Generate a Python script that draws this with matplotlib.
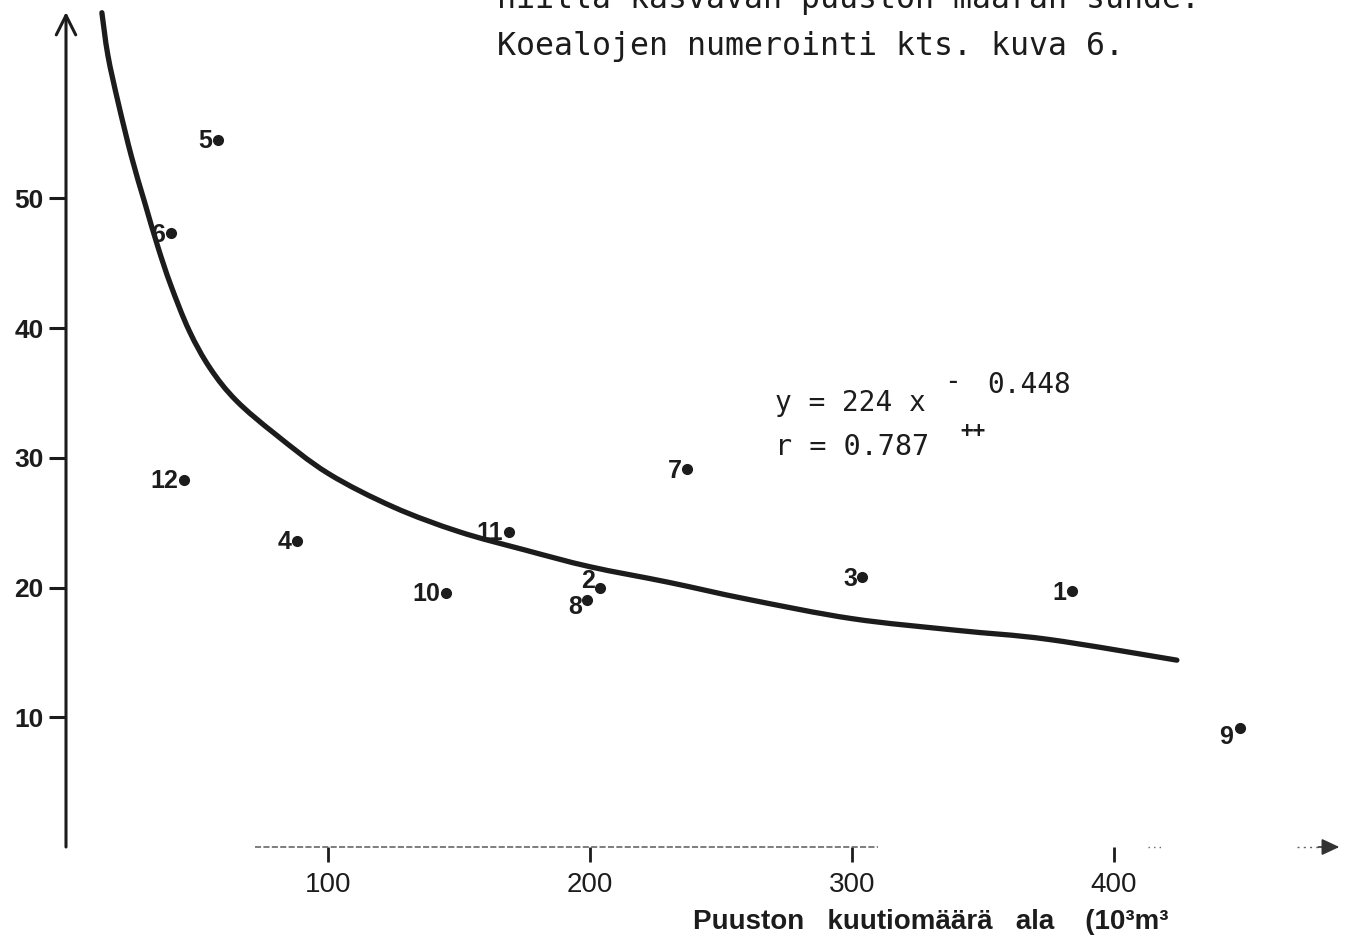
import numpy as np
import matplotlib
matplotlib.use("Agg")
import matplotlib.pyplot as plt
from matplotlib.path import Path
from matplotlib.patches import PathPatch

# plot numbers (koeala) and their position
plot_ids = ["1", "2", "3", "4", "5", "6", "7", "8", "9", "10", "11", "12"]
volume = [384, 204, 304, 88, 58, 40, 237, 199, 448, 145, 169, 45]
value_y = [19.7, 20.0, 20.8, 23.6, 54.5, 47.3, 29.1, 19.0, 9.2, 19.6, 24.3, 28.3]

# fitted curve as drawn in the figure
curve_x = [13.7, 16, 20, 25, 30, 35, 40, 47, 55, 65, 80, 100, 125, 150, 175,
           200, 230, 260, 300, 340, 375, 424]
curve_y = [64.3, 61.0, 57.3, 53.2, 49.7, 46.3, 43.3, 39.8, 36.9, 34.4, 31.8, 28.8,
           26.2, 24.3, 22.9, 21.6, 20.4, 19.1, 17.6, 16.7, 16.0, 14.4]

x_ticks = [100, 200, 300, 400]
y_ticks = [10, 20, 30, 40, 50]

W, H = 1357, 936
ink = "#1c1c1c"
sans = ["Liberation Sans", "DejaVu Sans"]
mono = ["DejaVu Sans Mono"]

# label offsets in points (label sits left of its dot)
label_off = {"2": (-4, 5), "8": (-4, -5), "9": (-5, -7)}


def fx(p):
    return p / W


def fy(p):
    return 1 - p / H


def smooth_path(xs, ys):
    # bezier path through the read points (catmull-rom handles)
    pts = np.column_stack([xs, ys])
    verts = [pts[0]]
    codes = [Path.MOVETO]
    for i in range(len(pts) - 1):
        p0 = pts[max(i - 1, 0)]
        p1 = pts[i]
        p2 = pts[i + 1]
        p3 = pts[min(i + 2, len(pts) - 1)]
        verts += [p1 + (p2 - p0) / 6, p2 - (p3 - p1) / 6, p2]
        codes += [Path.CURVE4] * 3
    return Path(verts, codes)


fig = plt.figure(figsize=(W / 100, H / 100), dpi=100)
ax = fig.add_axes([fx(66), fy(847), fx(1340) - fx(66), fy(5) - fy(847)])
ax.set_xlim(0, (1340 - 66) / 2.62)
ax.set_ylim(0, (847 - 5) / 12.975)
for s in ax.spines.values():
    s.set_visible(False)

# y axis with open arrow head
ax.annotate("", xy=(0, (847 - 12) / 12.975), xytext=(0, 0),
            arrowprops=dict(arrowstyle="->,head_length=0.7,head_width=0.35",
                            lw=2.2, color=ink, mutation_scale=20, shrinkA=0, shrinkB=0),
            annotation_clip=False)

# x axis, faint and broken as in the scan
ax.plot([72, 310], [0, 0], color="#5a5a5a", lw=1.1, dashes=(4, 1.5), clip_on=False)
ax.plot([413, 418], [0, 0], color="#666666", lw=1.0, dashes=(1, 3), clip_on=False)
ax.plot([470, 480], [0, 0], color="#666666", lw=1.0, dashes=(1.5, 3), clip_on=False)
ax.annotate("", xy=(486, 0), xytext=(478, 0),
            arrowprops=dict(arrowstyle="-|>,head_length=0.6,head_width=0.28",
                            lw=1.2, color="#333333", mutation_scale=18, shrinkA=0, shrinkB=0),
            annotation_clip=False)

ax.set_xticks(x_ticks)
ax.set_xticklabels([str(t) for t in x_ticks], family=sans, fontsize=20)
ax.set_yticks(y_ticks)
ax.set_yticklabels([str(t) for t in y_ticks], family=sans, fontsize=19, fontweight="bold")
ax.tick_params(axis="x", direction="out", length=11, width=2.0, color=ink, pad=7, labelcolor=ink)
ax.tick_params(axis="y", direction="out", length=12, width=2.2, color=ink, pad=4, labelcolor=ink)

# curve
ax.add_patch(PathPatch(smooth_path(curve_x, curve_y), facecolor="none", edgecolor=ink,
                       lw=3.8, capstyle="round", joinstyle="round", clip_on=False))

# points and labels
ax.plot(volume, value_y, "o", color=ink, ms=7, clip_on=False)
for pid, xv, yv in zip(plot_ids, volume, value_y):
    dx, dy = label_off.get(pid, (-4, -1))
    ax.annotate(pid, (xv, yv), xytext=(dx, dy), textcoords="offset points",
                ha="right", va="center", family=sans, fontsize=18, fontweight="heavy",
                color=ink)

# equation
ax.text(270.6, 33.6, "y = 224 x", family=mono, fontsize=20, color=ink, va="baseline")
ax.text(335.0, 35.2, "-", family=mono, fontsize=20, color=ink, va="baseline")
ax.text(351.5, 35.0, "0.448", family=mono, fontsize=20, color=ink, va="baseline")
ax.text(270.6, 30.2, "r = 0.787", family=mono, fontsize=20.5, color=ink, va="baseline")
ax.text(341.5, 31.6, "++", family=mono, fontsize=15, fontweight="bold", color=ink,
        va="baseline")

# caption text at top (first line cut by the page edge)
fig.text(fx(497), fy(8), "niillä kasvavan puuston määrän suhde.", family=mono, fontsize=22.8,
         color=ink, va="baseline")
fig.text(fx(497), fy(55), "Koealojen numerointi kts. kuva 6.", family=mono, fontsize=22.8,
         color=ink, va="baseline")

# x axis title
fig.text(fx(693), fy(929), "Puuston   kuutiomäärä   ala    (10³m³", family=sans, fontsize=20,
         fontweight="bold", color=ink, va="baseline")

fig.savefig("out.png", dpi=100, facecolor="white")
